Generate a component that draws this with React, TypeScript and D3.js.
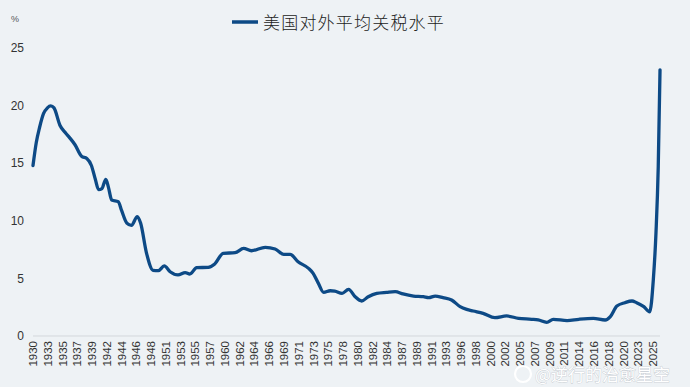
import * as d3 from "d3";

// 数据
const years = [
  1930, 1930.5, 1931, 1931.6, 1932.2, 1932.7, 1933.2, 1934.1, 1935.0, 1935.6,
  1936.4, 1937.4, 1938.2, 1938.9, 1939.5, 1940.0, 1940.5, 1941.1, 1941.5, 1942.0,
  1943.0, 1943.5, 1944.3, 1945.0, 1945.9, 1946.4, 1947.3, 1948.3, 1949.1, 1950.0,
  1950.9, 1952.1, 1953.2, 1953.9, 1954.95, 1956.7, 1957.7, 1959.0, 1960.8, 1962.1,
  1963.3, 1965.4, 1966.9, 1968.2, 1969.2, 1970.4, 1972.0, 1972.7, 1973.5, 1974.3,
  1975.3, 1976.0, 1977.1, 1978.1, 1979.1, 1980.1, 1981.1, 1982.4, 1983.9, 1985.2,
  1986.4, 1988.0, 1989.5, 1990.3, 1991.3, 1992.5, 1993.8, 1995.1, 1996.1, 1997.1,
  1998.6, 2000.4, 2002.2, 2004.0, 2006.0, 2007.0, 2008.3, 2009.3, 2011.4, 2013.2,
  2015.4, 2017.2, 2018.0, 2019.0, 2020.2, 2021.3, 2022.0, 2023.1, 2024.0, 2024.55,
  2024.95, 2025.3, 2025.57,
];

const tariff = [
  14.8, 16.8, 18.1, 19.3, 19.8, 19.97, 19.8, 18.3, 17.6, 17.2,
  16.6, 15.6, 15.4, 14.8, 13.6, 12.7, 12.8, 13.6, 12.9, 11.8,
  11.65, 10.9, 9.8, 9.6, 10.36, 9.8, 7.2, 5.7, 5.67, 6.08,
  5.58, 5.3, 5.5, 5.38, 5.93, 5.96, 6.25, 7.18, 7.23, 7.6,
  7.4, 7.7, 7.55, 7.09, 7.09, 6.45, 5.87, 5.44, 4.57, 3.79,
  3.93, 3.9, 3.7, 4.05, 3.41, 3.04, 3.41, 3.7, 3.79, 3.85,
  3.65, 3.47, 3.41, 3.33, 3.47, 3.33, 3.13, 2.55, 2.31, 2.17,
  1.97, 1.59, 1.74, 1.53, 1.45, 1.39, 1.19, 1.45, 1.33, 1.45,
  1.53, 1.39, 1.68, 2.6, 2.89, 3.04, 2.89, 2.55, 2.1, 4.9,
  8.9, 14.7, 23.1,
];

const xLabels = [
  "1930", "1933", "1935", "1937", "1939", "1942", "1944", "1946", "1948", "1951",
  "1953", "1955", "1957", "1960", "1962", "1964", "1966", "1969", "1971", "1973",
  "1975", "1978", "1980", "1982", "1984", "1987", "1989", "1991", "1993", "1996",
  "1998", "2000", "2002", "2005", "2007", "2009", "2011", "2014", "2016", "2018",
  "2020", "2023", "2025",
];

const yTicks = [0, 5, 10, 15, 20, 25];

const seriesName = "美国对外平均关税水平";

const width = 690;
const height = 387;
const lineColor = "#0d4a86";
const numFont = "'Liberation Sans Narrow', 'Liberation Sans', Arial, sans-serif";

const App = () => {
  // 横轴：标签每隔 2.25 年
  const x = d3.scaleLinear().domain([1930, 1930 + 2.25 * (xLabels.length - 1)]).range([33, 653]);
  const y = d3.scaleLinear().domain([0, 25]).range([336, 48]);

  const points: [number, number][] = years.map((yr, i) => [yr, tariff[i]]);
  const line = d3.line<[number, number]>()
    .x(d => x(d[0]))
    .y(d => y(d[1]))
    .curve(d3.curveMonotoneX);

  return (
    <svg width={width} height={height} style={{position: "absolute", left: 0, top: 0}}>
      <rect width={width} height={height} fill="#eef2f5"/>

      {/* 图例 */}
      <line x1={232} x2={258} y1={22} y2={22} stroke={lineColor} strokeWidth={3.5}/>
      <text x={263} y={29} fontSize={17} letterSpacing={1.2} fill="#222" fontWeight={300}
            fontFamily="'Noto Sans CJK SC', sans-serif">{seriesName}</text>

      {/* 纵轴 */}
      <text x={15} y={22} fontSize={9} fill="#555" textAnchor="middle" fontFamily={numFont}>%</text>
      {yTicks.map(t => (
        <text key={t} x={24} y={y(t)} dy="0.35em" fontSize={12} fill="#333" textAnchor="end"
              fontFamily={numFont}>{t}</text>
      ))}

      {/* 横轴 */}
      <line x1={33} x2={660} y1={y(0)} y2={y(0)} stroke="#d3d7db" strokeWidth={1}/>
      {xLabels.map((lab, i) => {
        const px = x(1930 + 2.25 * i);
        return (
          <text key={lab + i} transform={`translate(${px},${y(0) + 5}) rotate(-90)`} dy="0.35em"
                fontSize={11.5} fill="#333" textAnchor="end" fontFamily={numFont}>{lab}</text>
        );
      })}

      <path d={line(points) ?? ""} fill="none" stroke={lineColor} strokeWidth={3.3}
            strokeLinejoin="round" strokeLinecap="round"/>

      {/* 水印 */}
      <g>
        <circle cx={523} cy={374} r={8} fill="none" stroke="#fff" strokeWidth={2.2}/>
        <text x={535} y={381} fontSize={17} fill="#fff" stroke="#b9bfc6" strokeWidth={0.6}
              paintOrder="stroke" fontFamily="'Noto Sans CJK SC', sans-serif">@逆行的治愈星空</text>
      </g>
    </svg>
  );
};

export default App;
